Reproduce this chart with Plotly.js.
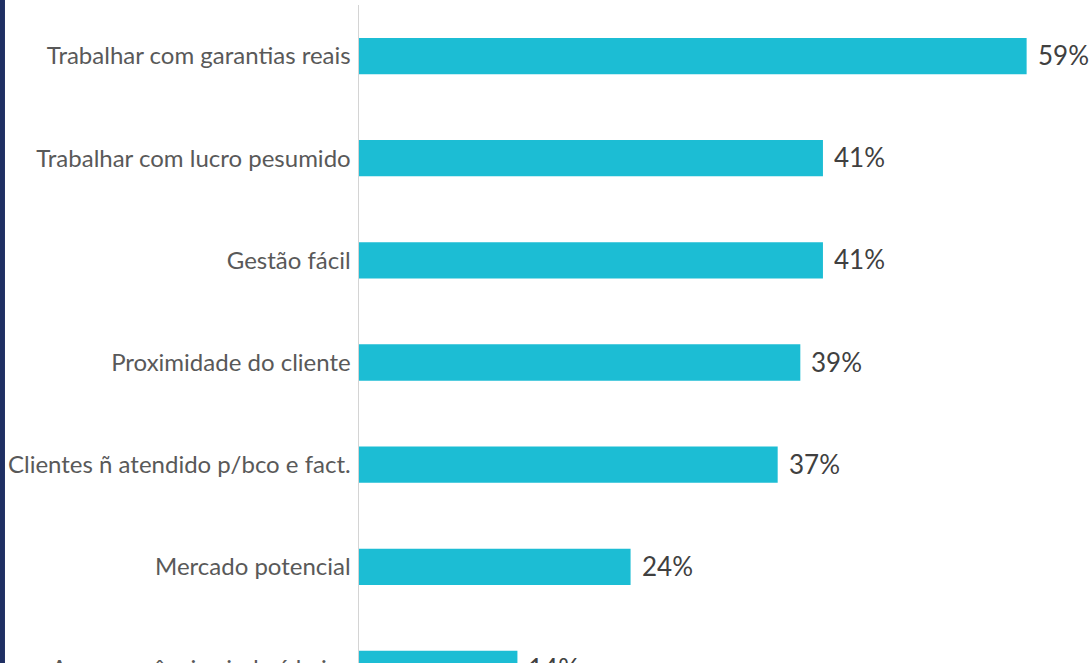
<!DOCTYPE html>
<html>
<head>
<meta charset="utf-8">
<script src="https://cdn.plot.ly/plotly-3.0.1.min.js"></script>
<style>
html,body{margin:0;padding:0;overflow:hidden;background:#fff;}
#wrap{width:1090px;height:663px;overflow:hidden;position:relative;}
#chart{width:1090px;height:720px;}
</style>
</head>
<body>
<div id="wrap"><div id="chart"></div></div>
<script>
const categories = [
  "Trabalhar com garantias reais",
  "Trabalhar com lucro pesumido",
  "Gestão fácil",
  "Proximidade do cliente",
  "Clientes ñ atendido p/bco e fact.",
  "Mercado potencial",
  "A concorrência ainda é baixa"
];
const values = [59, 41, 41, 39, 37, 24, 14];
const valueLabels = ["59%", "41%", "41%", "39%", "37%", "24%", "14%"];

const trace = {
  type: 'bar',
  orientation: 'h',
  y: categories,
  x: values,
  marker: {color: '#1cbdd4', line: {width: 0}},
  width: 0.355,
  hoverinfo: 'none'
};

const annotations = categories.map((c, i) => ({
  x: values[i], y: c, xref: 'x', yref: 'y',
  text: valueLabels[i], showarrow: false,
  xanchor: 'left', yanchor: 'middle', xshift: 9, yshift: 1,
  font: {family: 'Lato, "Open Sans", sans-serif', size: 26, color: '#404040'}
}));

const layout = {
  width: 1090,
  height: 720,
  margin: {l: 359, r: 0, t: 5, b: 0, pad: 0},
  paper_bgcolor: '#ffffff',
  plot_bgcolor: '#ffffff',
  showlegend: false,
  xaxis: {
    range: [0, 64.6],
    showgrid: false,
    zeroline: false,
    showline: false,
    showticklabels: false,
    ticks: ''
  },
  yaxis: {
    type: 'category',
    range: [6.5, -0.5],
    showgrid: false,
    zeroline: false,
    showline: true,
    linecolor: '#d4d4d4',
    linewidth: 1.5,
    ticks: '',
    ticklabelstandoff: 2,
    tickfont: {family: 'Lato, "Open Sans", sans-serif', size: 24, color: '#595959'}
  },
  annotations: annotations,
  shapes: [{
    type: 'rect', xref: 'paper', yref: 'paper',
    x0: -0.4911, x1: -0.4843, y0: -0.2, y1: 1.1,
    fillcolor: '#1f2f63', line: {width: 0}
  }]
};

Plotly.newPlot('chart', [trace], layout, {staticPlot: true, displayModeBar: false});
</script>
</body>
</html>
